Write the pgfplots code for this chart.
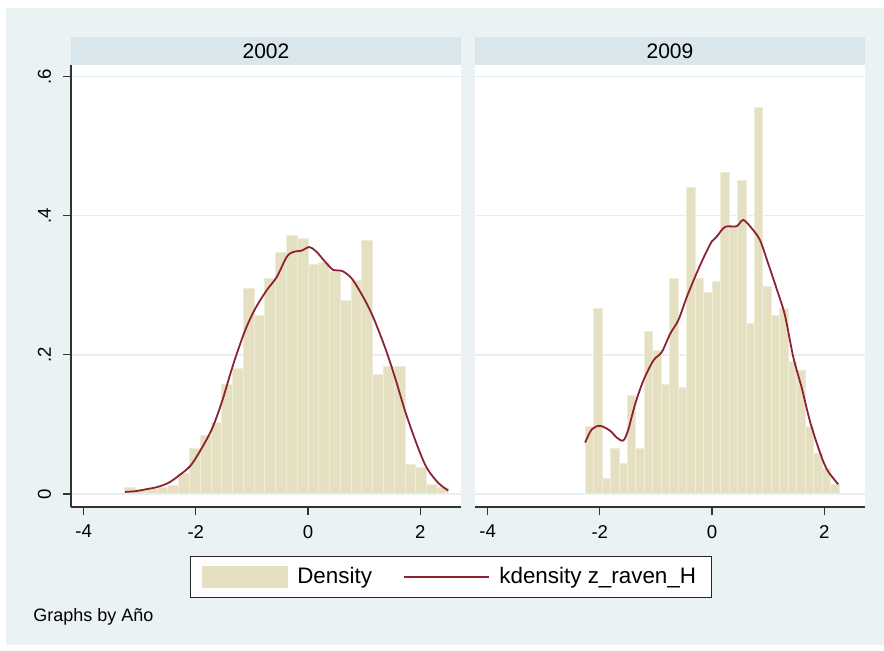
\documentclass[border=0pt]{standalone}
\usepackage{fontspec}
\setmainfont{Liberation Sans}
\usepackage{pgfplots}
\pgfplotsset{compat=1.18}
\definecolor{bg}{HTML}{EAF2F3}
\definecolor{hdr}{HTML}{D9E6EB}
\definecolor{barfill}{HTML}{E5E0C2}
\definecolor{barline}{HTML}{EFECDA}
\definecolor{kd}{HTML}{8C2232}
\definecolor{gridc}{HTML}{E6EFF1}
\pgfplotsset{
  panel/.style={
    scale only axis, width=195pt, height=221pt,
    xmin=-4.225, xmax=2.727, ymin=-0.0187, ymax=0.6168,
    axis x line*=bottom, axis y line*=left,
    axis line style={draw=black!80, line width=0.6pt},
    xtick={-4,-2,0,2}, xticklabels={-4,-2,0,2},
    ytick={0,0.2,0.4,0.6},
    tick align=outside, major tick length=4pt,
    tick style={draw=black!80, line width=0.6pt},
    ymajorgrids, major grid style={draw=gridc, line width=0.7pt},
    tick label style={font=\fontsize{9.3}{10}\selectfont},
    xticklabel style={yshift=-1.5pt},
    axis background/.style={fill=white},
  },
  bars/.style={ybar interval, fill=barfill, draw=barline, line width=0.5pt},
  kdl/.style={kd, line width=0.9pt, smooth, tension=0.5, no marks},
}
\begin{document}
\begin{tikzpicture}
\useasboundingbox (0,0) rectangle (442pt,325pt);
\fill[white] (0,0) rectangle (442pt,325pt);
\fill[bg] (3pt,2.5pt) rectangle (442pt,321pt);

% ---------- 2002 ----------
\begin{axis}[panel, at={(35.5pt,71.5pt)}, anchor=south west,
  yticklabels={0,.2,.4,.6},
  yticklabel style={xshift=-2.5pt, rotate=90, anchor=south},
  legend columns=2,
  legend style={at={(0.9744,-0.1584)}, anchor=center,
    draw=black!85, line width=0.6pt, fill=white,
    font=\fontsize{11.2}{13}\selectfont,
    inner xsep=5.5pt, inner ysep=3.3pt,
    /tikz/column sep=0pt,
    /tikz/every odd column/.append style={column sep=2.7pt},
    /tikz/every even column/.append style={column sep=13.6pt}},
  ]
\addplot[bars, legend image code/.code={\fill[barfill] (0pt,-5.25pt) rectangle (42.5pt,5.25pt);}] coordinates {
(-3.264,0.009) (-3.072,0.006) (-2.880,0.008) (-2.688,0.010) (-2.496,0.012)
(-2.303,0.029) (-2.111,0.066) (-1.919,0.084) (-1.727,0.103) (-1.535,0.158)
(-1.343,0.180) (-1.151,0.296) (-0.959,0.257) (-0.767,0.310) (-0.575,0.347)
(-0.383,0.372) (-0.190,0.368) (0.002,0.330) (0.194,0.333) (0.386,0.320)
(0.578,0.278) (0.770,0.307) (0.962,0.364) (1.154,0.172) (1.346,0.183)
(1.538,0.183) (1.731,0.043) (1.923,0.038) (2.115,0.014) (2.307,0.009)
(2.499,0.009)};
\addlegendentry{Density}
\addplot[kdl, legend image code/.code={\draw[kd, line width=0.9pt] (0pt,0pt) -- (42.5pt,0pt);}] coordinates {
(-3.259,0.003) (-3.080,0.004) (-2.873,0.007) (-2.690,0.010) (-2.488,0.016)
(-2.310,0.026) (-2.102,0.040) (-1.923,0.062) (-1.715,0.093) (-1.537,0.132)
(-1.330,0.187) (-1.122,0.235) (-0.944,0.266) (-0.736,0.293) (-0.557,0.312)
(-0.379,0.341) (-0.262,0.348) (-0.112,0.350) (0.023,0.355) (0.155,0.348)
(0.303,0.334) (0.451,0.322) (0.600,0.321) (0.778,0.310) (0.985,0.283)
(1.163,0.254) (1.371,0.211) (1.549,0.168) (1.728,0.120) (1.936,0.072)
(2.114,0.038) (2.321,0.016) (2.499,0.005)};
\addlegendentry{kdensity z\_raven\_H}
\end{axis}

% ---------- 2009 ----------
\begin{axis}[panel, at={(237.5pt,71.5pt)}, anchor=south west,
  yticklabels={}, y axis line style={draw=none}, ytick style={draw=none},
  ]
\addplot[bars] coordinates {
(-2.262,0.097) (-2.111,0.266) (-1.960,0.022) (-1.809,0.065) (-1.658,0.044)
(-1.507,0.142) (-1.356,0.065) (-1.205,0.234) (-1.054,0.207) (-0.903,0.158)
(-0.752,0.310) (-0.601,0.153) (-0.450,0.441) (-0.299,0.310) (-0.148,0.290)
(0.003,0.305) (0.154,0.462) (0.305,0.384) (0.456,0.451) (0.607,0.245)
(0.757,0.555) (0.908,0.299) (1.059,0.256) (1.210,0.266) (1.361,0.190)
(1.512,0.178) (1.663,0.097) (1.814,0.058) (1.965,0.036) (2.116,0.014)
(2.267,0.014)};
\addplot[kdl] coordinates {
(-2.262,0.074) (-2.142,0.093) (-1.995,0.098) (-1.817,0.091) (-1.697,0.081)
(-1.580,0.077) (-1.491,0.093) (-1.371,0.129) (-1.224,0.163) (-1.045,0.192)
(-0.896,0.204) (-0.748,0.230) (-0.600,0.250) (-0.451,0.283) (-0.303,0.312)
(-0.155,0.339) (-0.005,0.363) (0.084,0.370) (0.232,0.384) (0.440,0.385)
(0.557,0.394) (0.707,0.382) (0.855,0.365) (1.003,0.331) (1.152,0.295)
(1.300,0.257) (1.448,0.197) (1.598,0.153) (1.745,0.105) (1.893,0.067)
(2.043,0.036) (2.249,0.014)};
\end{axis}

% panel headers
\fill[hdr] (35.5pt,292.5pt) rectangle (230.5pt,306.5pt);
\fill[hdr] (237.5pt,292.5pt) rectangle (432.5pt,306.5pt);
\node[font=\fontsize{10.5}{12}\selectfont] at (133pt,299.5pt) {2002};
\node[font=\fontsize{10.5}{12}\selectfont] at (335pt,299.5pt) {2009};
\node[font=\fontsize{9}{11}\selectfont, anchor=base west, inner sep=0pt] at (16.5pt,14.2pt) {Graphs by Año};
\end{tikzpicture}
\end{document}
